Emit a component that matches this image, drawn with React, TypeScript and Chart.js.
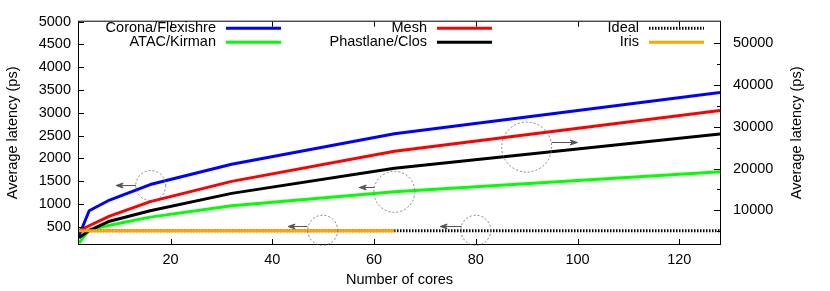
import { useEffect, useRef } from "react";
import { Chart, registerables } from "chart.js";

Chart.register(...registerables);

// ---- data ----
const cores = [2, 4, 8, 16, 32, 64, 128];
const coronaLatency = [300, 850, 1085, 1425, 1870, 2540, 3445];
const atacLatency = [140, 430, 530, 710, 960, 1268, 1705];
const meshLatency = [410, 520, 730, 1050, 1495, 2155, 3050];
const phastlaneLatency = [3500, 5200, 7440, 9940, 14070, 20050, 28220]; // right axis
const idealCores = [2, 128];
const idealLatency = [410, 410];
const irisCores = [2, 64];
const irisLatency = [410, 410];

const seriesLabels = ["Corona/Flexishre", "ATAC/Kirman", "Mesh", "Phastlane/Clos", "Ideal", "Iris"];

const xTicks = [20, 40, 60, 80, 100, 120];
const yTicks = [500, 1000, 1500, 2000, 2500, 3000, 3500, 4000, 4500, 5000];
const y2Ticks = [10000, 20000, 30000, 40000, 50000];
const y2MinorTicks = [5000, 15000, 25000, 35000, 45000];

// annotation circles (centre in data units of x / left y) and arrows
const circleX = [16.1, 64, 90, 49.9, 80];
const circleY = [1403, 1266, 2248, 421, 421];
const arrowFromX = [13.2, 60.05, 94.9, 46.9, 77.2];
const arrowToX = [9.3, 57.1, 99.95, 43.1, 73];
const arrowY = [1405, 1367, 2349, 507, 507];

const FONT = "'Liberation Sans', Arial, Helvetica, sans-serif";
const FSIZE = 14.5;

function pts(xs: number[], ys: number[]) {
  return xs.map((x, i) => ({ x, y: ys[i] }));
}

const plain = (v: any) => String(v);

const overlayPlugin = {
  id: "overlay",
  afterDraw(chart: any) {
    const { ctx, chartArea: a, scales } = chart;
    const xs = scales.x;
    const ys = scales.y;
    const y2s = scales.y2;
    ctx.save();

    // frame
    ctx.strokeStyle = "#000";
    ctx.lineWidth = 1;
    ctx.setLineDash([]);
    ctx.strokeRect(a.left - 0.5, a.top - 0.5, a.right - a.left + 1, a.bottom - a.top + 1);

    // inward ticks
    ctx.beginPath();
    for (const v of xTicks) {
      const p = Math.round(xs.getPixelForValue(v)) + 0.5;
      ctx.moveTo(p, a.bottom);
      ctx.lineTo(p, a.bottom - 5);
      ctx.moveTo(p, a.top);
      ctx.lineTo(p, a.top + 5);
    }
    for (const v of yTicks) {
      const p = Math.round(ys.getPixelForValue(v)) + 0.5;
      ctx.moveTo(a.left, p);
      ctx.lineTo(a.left + 5, p);
    }
    for (const v of y2Ticks) {
      const p = Math.round(y2s.getPixelForValue(v)) + 0.5;
      ctx.moveTo(a.right, p);
      ctx.lineTo(a.right - 6, p);
    }
    for (const v of y2MinorTicks) {
      const p = Math.round(y2s.getPixelForValue(v)) + 0.5;
      ctx.moveTo(a.right, p);
      ctx.lineTo(a.right - 3, p);
    }
    ctx.stroke();

    // circles
    const radii = [15, 20.5, 25, 15, 15];
    ctx.strokeStyle = "#666";
    ctx.lineWidth = 0.8;
    ctx.setLineDash([2, 2]);
    circleX.forEach((cx, i) => {
      ctx.beginPath();
      ctx.arc(xs.getPixelForValue(cx), ys.getPixelForValue(circleY[i]), radii[i], 0, Math.PI * 2);
      ctx.stroke();
    });

    // arrows
    ctx.setLineDash([]);
    ctx.strokeStyle = "#555";
    ctx.lineWidth = 1;
    arrowFromX.forEach((fx, i) => {
      const x1 = xs.getPixelForValue(fx);
      const x2 = xs.getPixelForValue(arrowToX[i]);
      const py = Math.round(ys.getPixelForValue(arrowY[i])) + 0.5;
      const dir = x2 > x1 ? 1 : -1;
      ctx.beginPath();
      ctx.moveTo(x1, py);
      ctx.lineTo(x2, py);
      ctx.stroke();
      ctx.beginPath();
      ctx.moveTo(x2, py);
      ctx.lineTo(x2 - dir * 7, py - 2.5);
      ctx.lineTo(x2 - dir * 5, py);
      ctx.lineTo(x2 - dir * 7, py + 2.5);
      ctx.closePath();
      ctx.fillStyle = "#555";
      ctx.fill();
      ctx.stroke();
    });

    // legend
    ctx.font = `${FSIZE}px ${FONT}`;
    ctx.fillStyle = "#000";
    ctx.textAlign = "right";
    ctx.textBaseline = "middle";
    const colRight = [216, 427, 639];
    const rowY = [28.3, 42.3];
    chart.data.datasets.forEach((ds: any, i: number) => {
      const col = Math.floor(i / 2);
      const row = i % 2;
      const tx = colRight[col];
      const ty = rowY[row];
      ctx.fillText(ds.label, tx, ty);
      ctx.beginPath();
      ctx.strokeStyle = ds.borderColor;
      ctx.lineWidth = 3;
      ctx.setLineDash(ds.borderDash || []);
      ctx.moveTo(tx + 10, ty);
      ctx.lineTo(tx + 65, ty);
      ctx.stroke();
    });
    ctx.setLineDash([]);

    // axis titles
    ctx.fillStyle = "#000";
    ctx.textAlign = "center";
    ctx.textBaseline = "middle";
    const midY = (a.top + a.bottom) / 2;
    ctx.save();
    ctx.translate(12.5, midY);
    ctx.rotate(-Math.PI / 2);
    ctx.fillText("Average latency (ps)", 0, 0);
    ctx.restore();
    ctx.save();
    ctx.translate(797, midY);
    ctx.rotate(-Math.PI / 2);
    ctx.fillText("Average latency (ps)", 0, 0);
    ctx.restore();
    ctx.fillText("Number of cores", (a.left + a.right) / 2, 280);

    ctx.restore();
  },
};

export default function App() {
  const ref = useRef<HTMLCanvasElement | null>(null);

  useEffect(() => {
    if (!ref.current) return;
    Chart.defaults.font.family = FONT;
    Chart.defaults.font.size = FSIZE;
    Chart.defaults.color = "#000";

    const colors = ["#0000ff", "#00ff00", "#ff0000", "#000000", "#000000", "#ffa500"];
    const dataSets = [
      pts(cores, coronaLatency),
      pts(cores, atacLatency),
      pts(cores, meshLatency),
      pts(cores, phastlaneLatency),
      pts(idealCores, idealLatency),
      pts(irisCores, irisLatency),
    ];

    const chart = new Chart(ref.current, {
      type: "line",
      data: {
        datasets: dataSets.map((d, i) => ({
          label: seriesLabels[i],
          data: d,
          borderColor: colors[i],
          backgroundColor: colors[i],
          borderWidth: 3,
          pointRadius: 0,
          tension: 0,
          fill: false,
          order: 5 - i,
          yAxisID: i === 3 ? "y2" : "y",
          borderDash: i === 4 ? [1.5, 1.5] : undefined,
          borderCapStyle: "butt",
          borderJoinStyle: "round",
        })) as any,
      },
      options: {
        animation: false,
        responsive: false,
        layout: { padding: { top: 17, left: 0, right: 0, bottom: 0 } },
        plugins: { legend: { display: false }, tooltip: { enabled: false } },
        scales: {
          x: {
            type: "linear",
            position: "bottom",
            min: 2,
            max: 128,
            grid: { display: false, drawTicks: false },
            border: { display: false },
            ticks: { padding: 7, autoSkip: false, maxRotation: 0, color: "#000", callback: plain },
            afterBuildTicks: (s: any) => {
              s.ticks = xTicks.map((v) => ({ value: v }));
            },
            afterFit: (s: any) => {
              s.height = 47;
            },
          },
          y: {
            type: "linear",
            position: "left",
            min: 120,
            max: 5000,
            grid: { display: false, drawTicks: false },
            border: { display: false },
            ticks: { padding: 8, autoSkip: false, color: "#000", callback: plain },
            afterBuildTicks: (s: any) => {
              s.ticks = yTicks.map((v) => ({ value: v }));
            },
            afterFit: (s: any) => {
              s.width = 79;
            },
          },
          y2: {
            type: "linear",
            position: "right",
            min: 2000,
            max: 55000,
            grid: { display: false, drawTicks: false },
            border: { display: false },
            ticks: { padding: 13, autoSkip: false, color: "#000", callback: plain },
            afterBuildTicks: (s: any) => {
              s.ticks = y2Ticks.map((v) => ({ value: v }));
            },
            afterFit: (s: any) => {
              s.width = 110;
            },
          },
        },
      },
      plugins: [overlayPlugin],
    });
    return () => chart.destroy();
  }, []);

  return (
    <div style={{ position: "absolute", left: 0, top: 0, width: 830, height: 291, background: "#fff" }}>
      <canvas ref={ref} width={830} height={291} style={{ display: "block" }} />
    </div>
  );
}
